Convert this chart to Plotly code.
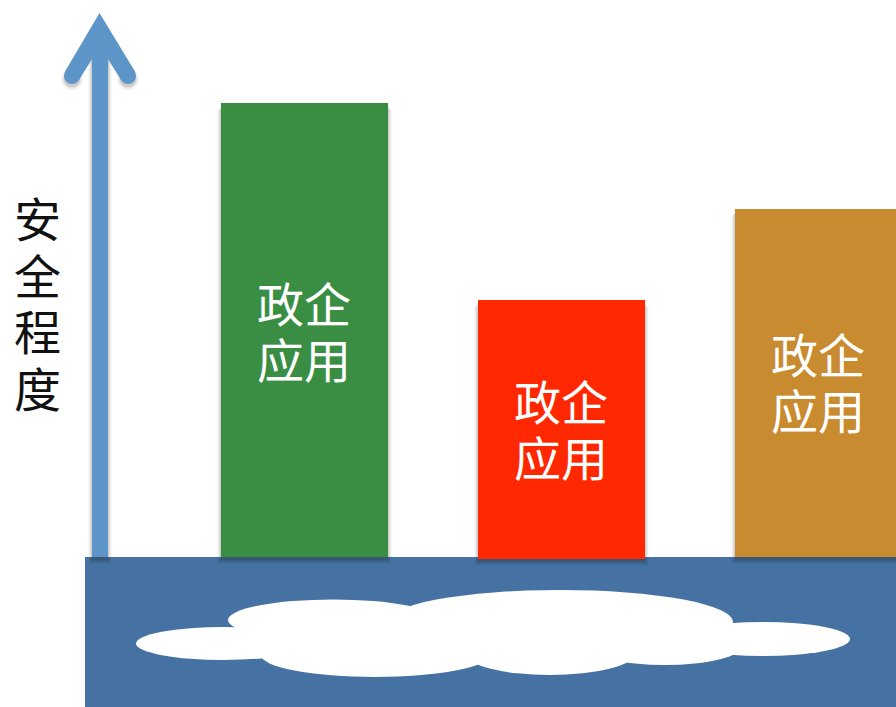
import plotly.graph_objects as go

# Chart content
axis_title = ["安", "全", "程", "度"]
bar_label = ["政企", "应用"]
bar_centers = [304.5, 561.5, 818.5]
bar_bases = [0, -2, 0]
bar_values = [454, 259, 348]
bar_colors = ["#398E44", "#FF2800", "#C88B30"]
arrow_value = 505

BAR_WIDTH = 167
GROUND = "#4572A3"
ARROW = "#5D95C9"
FONT = "Noto Sans CJK SC"
BASELINE = 557          # screen row of the value axis origin
LABEL_ROWS = [329, 427, 380]   # screen row of each column label's centre


def row(p):
    """Value-axis coordinate of a screen row."""
    return BASELINE - p


def stacked(lines, leading, size):
    """Multi-line text whose glyph size is independent of its line pitch."""
    return "<br>".join(f'<span style="font-size:{size}px">{s}</span>' for s in lines), leading / 1.3


fig = go.Figure()
shapes = []

# Ground band
shapes.append(dict(type="rect", layer="below", xref="x", yref="y", x0=85, x1=900,
                   y0=row(557), y1=row(710), fillcolor=GROUND, line_width=0))

# Cloud, assembled from overlapping ellipses (cx, cy, rx, ry)
cloud = [(224, 643.5, 88, 16.5), (333, 620, 105, 20.5), (560, 622, 173, 32),
         (375, 655, 114, 22), (550, 653, 85, 22), (665, 645, 78, 20),
         (763, 639, 87, 17), (500, 635, 200, 25)]
for cx, cy, rx, ry in cloud:
    shapes.append(dict(type="circle", layer="below", xref="x", yref="y",
                       x0=cx - rx, x1=cx + rx, y0=row(cy - ry), y1=row(cy + ry),
                       fillcolor="white", line_width=0))

# Soft drop shadows: stacked translucent bars, slightly larger each pass
for grow, alpha in [(8, 0.03), (6, 0.05), (4, 0.07), (2, 0.09), (0, 0.12)]:
    fig.add_trace(go.Bar(
        x=[100] + bar_centers,
        y=[arrow_value] + bar_values,
        base=[v - 3 - grow / 2 for v in [0] + bar_bases],
        width=[16 + grow] + [BAR_WIDTH + grow] * 3,
        marker=dict(color=f"rgba(30,30,30,{alpha})", line_width=0),
        hoverinfo="skip", showlegend=False))

# Arrow shaft
fig.add_trace(go.Bar(x=[100], y=[arrow_value], base=[0], width=[16],
                     marker=dict(color=ARROW, line_width=0), showlegend=False))
# Columns
fig.add_trace(go.Bar(x=bar_centers, y=bar_values, base=bar_bases, width=BAR_WIDTH,
                     marker=dict(color=bar_colors, line_width=0), showlegend=False))

# Arrow head: barbs with rounded ends, each shadowed below
for cx in (72, 128):
    for grow, alpha in [(3, 0.05), (1.5, 0.08), (0, 0.12)]:
        r = 8 + grow
        shapes.append(dict(type="circle", layer="below", xref="x", yref="y",
                           x0=cx - r, x1=cx + r, y0=row(79 - r), y1=row(79 + r),
                           fillcolor=f"rgba(30,30,30,{alpha})", line_width=0))
    shapes.append(dict(type="circle", layer="above", xref="x", yref="y",
                       x0=cx - 8, x1=cx + 8, y0=row(68), y1=row(84),
                       fillcolor=ARROW, line_width=0))
head = [(99.5, 13), (135, 71.5), (121, 80), (108, 59), (92, 59), (79, 80), (65, 71.5)]
path = "M " + " L ".join(f"{x},{row(p)}" for x, p in head) + " Z"
shapes.append(dict(type="path", layer="above", xref="x", yref="y", path=path,
                   fillcolor=ARROW, line_width=0))

# Text
annotations = []
title_text, title_base = stacked(axis_title, 56.7, 47)
annotations.append(dict(x=37, y=row(301), text=title_text, showarrow=False,
                        xref="x", yref="y", xanchor="center", yanchor="middle",
                        font=dict(family=FONT, size=title_base, color="#111111")))
label_text, label_base = stacked(bar_label, 56, 47)
for cx, r in zip(bar_centers, LABEL_ROWS):
    annotations.append(dict(x=cx - 0.5, y=row(r), text=label_text, showarrow=False,
                            xref="x", yref="y", xanchor="center", yanchor="middle",
                            font=dict(family=FONT, size=label_base, color="white")))

fig.update_layout(
    width=896, height=707, margin=dict(l=0, r=0, t=0, b=0),
    paper_bgcolor="white", plot_bgcolor="rgba(0,0,0,0)",
    barmode="overlay", shapes=shapes, annotations=annotations,
    xaxis=dict(range=[0, 896], visible=False, fixedrange=True),
    yaxis=dict(range=[row(707), row(0)], visible=False, fixedrange=True),
)
fig.write_html("out.html", config=dict(displayModeBar=False))
